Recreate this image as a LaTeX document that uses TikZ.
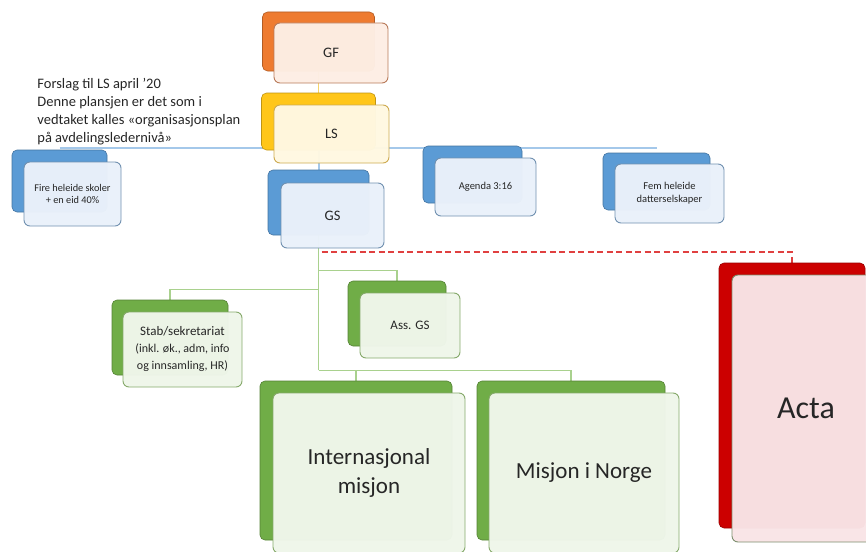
\documentclass[tikz,border=0pt]{standalone}
\usepackage{fontspec}
\setmainfont{Carlito}
\usepackage{xcolor}
\usetikzlibrary{backgrounds}
\definecolor{textgray}{HTML}{262626}
\definecolor{gforange}{HTML}{EE7B30}
\definecolor{gffill}{HTML}{FDEEE4}
\definecolor{gfdraw}{HTML}{B87A5A}
\definecolor{lsyellow}{HTML}{FFC61A}
\definecolor{lsfill}{HTML}{FFF8E1}
\definecolor{lsdraw}{HTML}{CDAA50}
\definecolor{gsblue}{HTML}{5B9BD5}
\definecolor{gsfill}{HTML}{EAF1FA}
\definecolor{gsdraw}{HTML}{7090B0}
\definecolor{stgreen}{HTML}{70AD47}
\definecolor{stfill}{HTML}{EFF6EA}
\definecolor{stdraw}{HTML}{85A96A}
\definecolor{actared}{HTML}{CC0000}
\definecolor{actafill}{HTML}{F9E4E6}
\definecolor{actadraw}{HTML}{7D8F6E}
\definecolor{ylinecol}{HTML}{F7D46A}
\definecolor{blinecol}{HTML}{A4C8EA}
\definecolor{glinecol}{HTML}{A9D18E}
\definecolor{rlinecol}{HTML}{E04040}

\begin{document}
\begin{tikzpicture}[x=1pt,y=-1pt,thick,
    backbox/.style={draw=#1!75!black,fill=#1,rounded corners=5pt,line width=0.6pt,inner sep=0pt},
    frontbox/.style 2 args={draw=#2,fill=#1,fill opacity=0.975,text opacity=1,rounded corners=6pt,line width=0.9pt,inner sep=0pt,text=textgray,align=center},
    yline/.style={draw=ylinecol,line width=1.6pt},
    bline/.style={draw=blinecol,line width=2pt},
    gline/.style={draw=glinecol,line width=1.5pt},
    rline/.style={draw=rlinecol,line width=1.7pt,dash pattern=on 6pt off 3.5pt}]
    \useasboundingbox (0,0) rectangle (866,551);
    \clip (0,0) rectangle (866,551);

    \node[backbox=gforange,minimum width=112,minimum height=59] (gfb) at (318.5,41.5) {};
    \node[frontbox={gffill}{gfdraw},minimum width=114,minimum height=60,font=\fontsize{14.5}{16}\selectfont] (gf) at ([shift={(12.5,11.5)}]gfb) {GF};

    \node[backbox=lsyellow,minimum width=114,minimum height=57] (lsb) at (318.5,121.5) {};
    \node[frontbox={lsfill}{lsdraw},minimum width=115,minimum height=58,font=\fontsize{14.5}{16}\selectfont] (ls) at ([shift={(13,12.5)}]lsb) {LS};

    \node[backbox=gsblue,minimum width=101,minimum height=65] (gsb) at (318.5,202.5) {};
    \node[frontbox={gsfill}{gsdraw},minimum width=103,minimum height=65,font=\fontsize{14.5}{16}\selectfont] (gs) at ([shift={(14,13)}]gsb) {GS};

    \node[backbox=gsblue,minimum width=95,minimum height=62] (firb) at (59.5,181) {};
    \node[frontbox={gsfill}{gsdraw},minimum width=97,minimum height=64,font=\fontsize{10.3}{12}\selectfont] (fir) at ([shift={(13,13)}]firb) {Fire heleide skoler\\+ en eid 40\%};

    \node[backbox=gsblue,minimum width=99,minimum height=57] (agb) at (472.5,174.5) {};
    \node[frontbox={gsfill}{gsdraw},minimum width=101,minimum height=58,font=\fontsize{10.5}{12}\selectfont] (ag) at ([shift={(13,12.5)}]agb) {Agenda 3:16};

    \node[backbox=gsblue,minimum width=107,minimum height=57] (femb) at (656.5,181.5) {};
    \node[frontbox={gsfill}{gsdraw},minimum width=109,minimum height=59,font=\fontsize{10.5}{13}\selectfont] (fem) at ([shift={(13,12)}]femb) {Fem heleide\\datterselskaper};

    \node[backbox=stgreen,minimum width=116,minimum height=75] (stabb) at (170,337.5) {};
    \node[frontbox={stfill}{stdraw},minimum width=119,minimum height=75,font=\fontsize{12}{17}\selectfont] (stab) at ([shift={(12.5,12)}]stabb) {{\fontsize{13}{17}\selectfont Stab/sekretariat}\\(inkl. øk., adm, info\\og innsamling, HR)};

    \node[backbox=stgreen,minimum width=98,minimum height=65] (assb) at (397,313.5) {};
    \node[frontbox={stfill}{stdraw},minimum width=100,minimum height=65,font=\fontsize{13}{16}\selectfont] (ass) at ([shift={(13,12)}]assb) {Ass. GS};

    \node[backbox=stgreen,minimum width=192,minimum height=159] (intb) at (356,460.5) {};
    \node[frontbox={stfill}{stdraw},minimum width=192,minimum height=160,font=\fontsize{23}{29}\selectfont] (int) at ([shift={(13,12.5)}]intb) {Internasjonal\\misjon};

    \node[backbox=stgreen,minimum width=188,minimum height=159] (misb) at (571,460.5) {};
    \node[frontbox={stfill}{stdraw},minimum width=190,minimum height=160,font=\fontsize{23}{29}\selectfont] (mis) at ([shift={(13,12.5)}]misb) {Misjon i Norge};

    \node[backbox=actared,minimum width=146,minimum height=265] (actab) at (792,395.5) {};
    \node[frontbox={actafill}{actadraw},minimum width=148,minimum height=267,font=\fontsize{32}{36}\selectfont] (acta) at ([shift={(14,13)}]actab) {Acta};

    \node[anchor=north west,align=left,inner sep=0pt,text=textgray,font=\fontsize{14.5}{18}\selectfont] (note) at (37,78) {Forslag til LS april ’20\\Denne plansjen er det som i\\vedtaket kalles «organisasjonsplan\\på avdelingsledernivå»};

    \coordinate (lsbus) at (318.5,148);

    \begin{pgfonlayer}{background}
    \draw[yline] (gfb) -- (lsb);
    \draw[bline] (lsb) -- (gsb);
    \draw[bline] (firb.north |- lsbus) -- (femb.north |- lsbus);
    \draw[gline] (gsb.south) -- ([yshift=-135]gsb.south) coordinate (gsbus);
    \draw[gline] ([yshift=-35]gsb.south) -| (assb.north);
    \draw[gline] ([yshift=-54]gsb.south) -| (stabb.north);
    \draw[gline] (gsbus) -| (intb.north);
    \draw[gline] (gsbus) -| (misb.north);
    \draw[rline] ([shift={(3,17)}]gsb.south) -| (actab.north);
    \end{pgfonlayer}
\end{tikzpicture}
\end{document}
